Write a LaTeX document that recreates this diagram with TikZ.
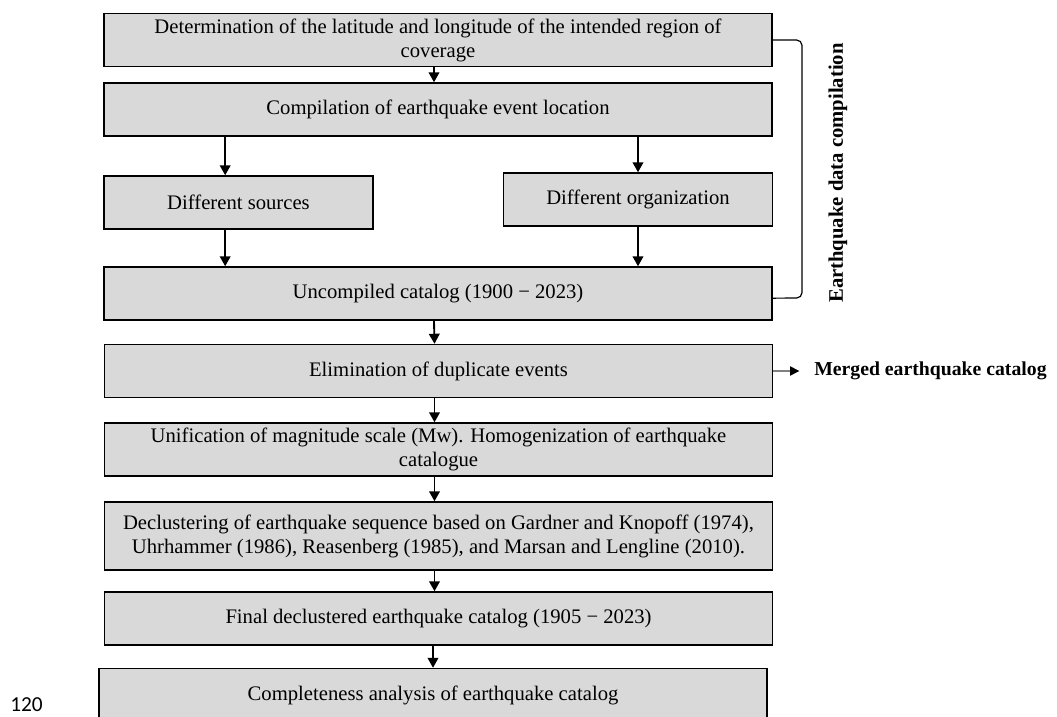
\documentclass[tikz,border=0pt]{standalone}
\usepackage{fontspec}
\setmainfont{Liberation Serif}
\newfontfamily\pagefont{Carlito}
\usetikzlibrary{arrows.meta,positioning}
\definecolor{boxgray}{HTML}{D9D9D9}
\tikzset{
	box/.style={draw,rectangle,align=center,fill=boxgray,line width=1.1pt,minimum width=501pt,minimum height=39.75pt,inner sep=2pt,font=\fontsize{15.5}{18}\selectfont},
	halfbox/.style={box,minimum width=201.5pt},
	flow/.style={-{Triangle[width=8pt,length=7.5pt]},line width=1.4pt},
	side/.style={-{Triangle[width=7pt,length=7pt,color=black]},draw=gray,line width=0.9pt},
	bracket/.style={line width=0.9pt,rounded corners=4pt},
	tag/.style={font=\fontsize{15.5}{18}\selectfont\bfseries}
}

\begin{document}
\begin{tikzpicture}[x=0.75pt,y=-0.75pt]
	\useasboundingbox (0,0) rectangle (1057,717);
	\node[box] (region) at (438,40) {Determination of the latitude and longitude of the intended region of\\coverage};
	\node[box] (compil) at (438,109.5) {Compilation of earthquake event location};
	\node[halfbox] (sources) at (238.5,202.5) {Different sources};
	\node[halfbox] (organ) at (638,199.5) {Different organization};
	\node[box] (uncomp) at (438,293.5) {Uncompiled catalog (1900 − 2023)};
	\node[box] (elim) at (438.5,371) {Elimination of duplicate events};
	\node[box] (unif) at (438.5,449.5) {Unification of magnitude scale (Mw). Homogenization of earthquake\\catalogue};
	\node[box,minimum height=51pt] (declus) at (438.5,536) {Declustering of earthquake sequence based on Gardner and Knopoff (1974),\\Uhrhammer (1986), Reasenberg (1985), and Marsan and Lengline (2010).};
	\node[box] (final) at (438.5,618.5) {Final declustered earthquake catalog (1905 − 2023)};
	\node[box] (complete) at (433,695) {Completeness analysis of earthquake catalog};
	\node[tag,rotate=90] (grouplabel) at (838,173) {Earthquake data compilation};
	\node[tag,font=\fontsize{14.8}{18}\selectfont\bfseries,anchor=west,inner sep=0pt] (merged) at (814,371) {Merged earthquake catalog};
	\node[font=\pagefont\fontsize{16}{19}\selectfont,anchor=base west,inner sep=0pt] (page) at (10,711) {120};
	\coordinate (sx) at ([xshift=-10pt]sources.north);
	\draw[flow] ([xshift=-3pt]region.south) -- ([xshift=-3pt]compil.north);
	\draw[flow] (sx |- compil.south) -- (sx);
	\draw[flow] (organ.north |- compil.south) -- (organ.north);
	\draw[flow] (sx |- sources.south) -- (sx |- uncomp.north);
	\draw[flow] (organ.south) -- (organ.south |- uncomp.north);
	\draw[flow] ([xshift=-3pt]uncomp.south) -- ([xshift=-3pt]elim.north);
	\draw[flow] ([xshift=-3pt]elim.south) -- ([xshift=-3pt]unif.north);
	\draw[flow] ([xshift=-3pt]unif.south) -- ([xshift=-3pt]declus.north);
	\draw[flow] ([xshift=-3pt]declus.south) -- ([xshift=-3pt]final.north);
	\draw[flow] (final.south -| complete.north) -- (complete.north);
	\draw[side,shorten >=11pt] (elim.east) -- (merged.west);
	\draw[bracket] (region.east) -- (802,40) -- (802,298) -- ([yshift=-3.5pt]uncomp.east);
\end{tikzpicture}
\end{document}
